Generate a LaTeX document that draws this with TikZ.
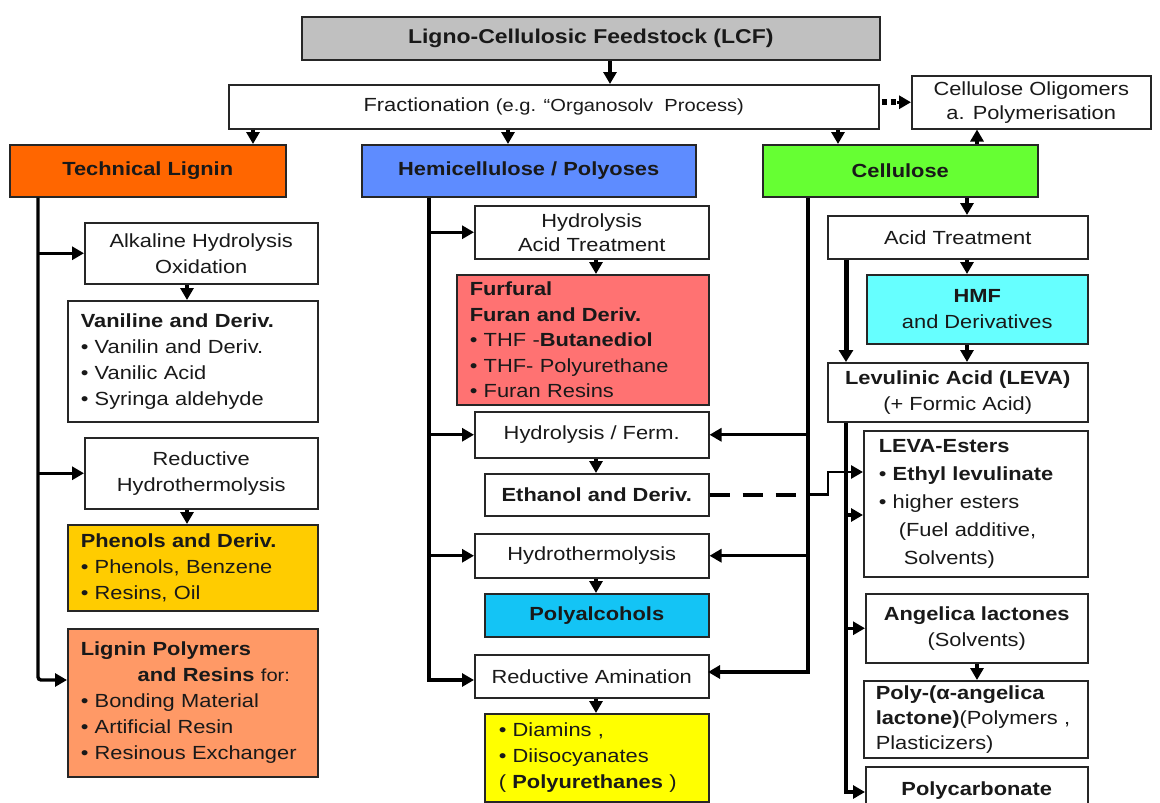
\documentclass[tikz,border=0pt]{standalone}
\usepackage{fontspec}
\setmainfont{Liberation Sans}[FakeStretch=1.15]
\usetikzlibrary{arrows.meta}
\definecolor{lcfgray}{HTML}{C0C0C0}
\definecolor{lignorange}{HTML}{FF6600}
\definecolor{hemiblue}{HTML}{5E8CFF}
\definecolor{cellgreen}{HTML}{66FF33}
\definecolor{phengold}{HTML}{FFCC00}
\definecolor{lpsalmon}{HTML}{FF9966}
\definecolor{furfred}{HTML}{FF7272}
\definecolor{polyblue}{HTML}{14C4F5}
\definecolor{hmfcyan}{HTML}{66FFFF}
\definecolor{diamyellow}{HTML}{FFFF00}
\newcommand\fsn{\fontsize{19}{26}\selectfont}
\newcommand\fst{\fontsize{20}{26}\selectfont}
\begin{document}
\begin{tikzpicture}[x=1pt,y=-1pt,
  bx/.style={draw=black!85, line width=1.5pt, inner sep=0pt, anchor=north west,
             align=center, font=\fsn, text=black!90},
  lbx/.style={bx, align=left, inner xsep=13pt},
  arr/.style={line width=3.4pt, -{Triangle[length=12pt,width=13pt]}},
  thickarr/.style={line width=5pt, -{Triangle[length=12pt,width=14pt]}},
  thinarr/.style={line width=2.8pt, -{Triangle[length=12pt,width=13pt]}},
]
\fill[white] (0,0) rectangle (1160,803);
\useasboundingbox (0,0) rectangle (1160,803);

% column x positions
\coordinate (xL) at (38,0);
\coordinate (xH) at (429,0);
\coordinate (xC) at (808,0);
\coordinate (xV) at (846,0);
\coordinate (x610) at (610,0);
\coordinate (x253) at (253,0);
\coordinate (x508) at (508,0);
\coordinate (x838) at (838,0);
\coordinate (x977) at (977,0);
\coordinate (x967) at (967,0);
\coordinate (x187) at (187,0);
\coordinate (x596) at (596,0);

% top
\node[bx, fill=lcfgray, minimum width=578pt, minimum height=43pt, font=\fst\bfseries] (lcf) at (301,16) {Ligno-Cellulosic Feedstock (LCF)};
\node[bx, minimum width=650pt, minimum height=44pt] (frac) at (228,84) {Fractionation {\fontsize{17.5}{20}\selectfont (e.g. “Organosolv\ \ Process)}};
\node[bx, minimum width=239pt, minimum height=53pt, font=\fontsize{19}{24}\selectfont] (olig) at (911,75) {Cellulose Oligomers\\a. Polymerisation};

\node[bx, fill=lignorange, minimum width=276pt, minimum height=52pt, font=\fsn\bfseries] (lignin) at (9,144) {Technical Lignin};
\node[bx, fill=hemiblue, minimum width=334pt, minimum height=52pt, font=\fsn\bfseries] (hemi) at (361,144) {Hemicellulose / Polyoses};
\node[bx, fill=cellgreen, minimum width=275pt, minimum height=52pt, font=\fsn\bfseries] (cell) at (762,144) {Cellulose};

% lignin column
\node[bx, minimum width=233pt, minimum height=61pt] (alk) at (84,222) {Alkaline Hydrolysis\\Oxidation};
\node[lbx, text width=224pt, minimum height=121pt] (van) at (67,300) {\textbf{Vaniline and Deriv.}\\• Vanilin and Deriv.\\• Vanilic Acid\\• Syringa aldehyde};
\node[bx, minimum width=233pt, minimum height=71pt] (redh) at (84,437) {Reductive\\Hydrothermolysis};
\node[lbx, fill=phengold, text width=224pt, minimum height=86pt] (phen) at (67,524) {\textbf{Phenols and Deriv.}\\• Phenols, Benzene\\• Resins, Oil};
\node[lbx, fill=lpsalmon, text width=224pt, minimum height=148pt] (lpoly) at (67,628) {\textbf{Lignin Polymers}\\\hspace*{57pt}\textbf{and Resins} {\fontsize{17.5}{20}\selectfont for:}\\• Bonding Material\\• Artificial Resin\\• Resinous Exchanger};

% hemicellulose column
\node[bx, minimum width=234pt, minimum height=53pt, font=\fontsize{19}{24}\selectfont] (hyd) at (474,205) {Hydrolysis\\Acid Treatment};
\node[lbx, fill=furfred, text width=226pt, minimum height=130pt, font=\fontsize{19}{25.5}\selectfont] (furf) at (456,274) {\textbf{Furfural}\\\textbf{Furan and Deriv.}\\• THF -\textbf{Butanediol}\\• THF- Polyurethane\\• Furan Resins};
\node[bx, minimum width=234pt, minimum height=46pt] (ferm) at (474,411) {Hydrolysis / Ferm.};
\node[bx, minimum width=224pt, minimum height=42pt, font=\fsn\bfseries] (eth) at (484,473) {Ethanol and Deriv.};
\node[bx, minimum width=234pt, minimum height=44pt] (hth) at (474,533) {Hydrothermolysis};
\node[bx, fill=polyblue, minimum width=224pt, minimum height=43pt, font=\fsn\bfseries] (polyal) at (484,593) {Polyalcohols};
\node[bx, minimum width=234pt, minimum height=43pt] (redam) at (474,654) {Reductive Amination};
\node[lbx, fill=diamyellow, inner xsep=14pt, text width=196pt, minimum height=88pt] (diam) at (484,713) {• Diamins ,\\• Diisocyanates\\( \textbf{Polyurethanes} )};

% cellulose column
\node[bx, minimum width=260pt, minimum height=43pt] (acid) at (827,215) {Acid Treatment};
\node[bx, fill=hmfcyan, minimum width=221pt, minimum height=69pt] (hmf) at (866,274) {\textbf{HMF}\\and Derivatives};
\node[bx, minimum width=260pt, minimum height=59pt] (leva) at (827,362) {\textbf{Levulinic Acid (LEVA)}\\(+ Formic Acid)};
\node[lbx, inner xsep=15pt, text width=194pt, minimum height=146pt, font=\fontsize{19}{28}\selectfont] (esters) at (863,430) {\textbf{LEVA-Esters}\\• \textbf{Ethyl levulinate}\\• higher esters\\\hspace*{20pt}(Fuel additive,\\\hspace*{25pt}Solvents)};
\node[bx, minimum width=222pt, minimum height=69pt] (angel) at (865,593) {\textbf{Angelica lactones}\\(Solvents)};
\node[lbx, inner xsep=12pt, text width=200pt, minimum height=77pt, font=\fontsize{19}{25}\selectfont] (polyang) at (863,680) {\textbf{Poly-(α-angelica}\\\textbf{lactone)}(Polymers ,\\Plasticizers)};
\node[bx, minimum width=222pt, minimum height=48pt, font=\fsn\bfseries] (pcarb) at (865,766) {Polycarbonate};

% entry coordinates on box edges
\coordinate (lpin) at (67,680);
\coordinate (rain) at (474,680);
\coordinate (raie) at (708,672);
\coordinate (esin) at (863,515);
\coordinate (esup) at (863,472);
\coordinate (pcin) at (865,792);

% top connectors
\draw[arr] (lcf.south -| x610) -- (frac.north -| x610);
\draw[arr] (frac.south -| x253) -- (lignin.north -| x253);
\draw[arr] (frac.south -| x508) -- (hemi.north -| x508);
\draw[arr] (frac.south -| x838) -- (cell.north -| x838);
\draw[line width=6pt, dash pattern=on 5pt off 4pt] ([xshift=2pt]olig.west -| frac.east) -- ([xshift=-15pt]olig.west);
\draw[arr] ([xshift=-14pt]olig.west) -- (olig.west);
\draw[arr] (cell.north -| x977) -- (olig.south -| x977);

% lignin column
\draw[arr, rounded corners=3pt] (lignin.south -| xL) -- (xL |- lpin) -- (lpin);
\draw[arr] (xL |- alk.west) -- (alk.west);
\draw[arr] (xL |- redh.west) -- (redh.west);
\draw[arr] (alk.south -| x187) -- (van.north -| x187);
\draw[arr] (redh.south -| x187) -- (phen.north -| x187);

% hemicellulose column
\draw[arr] (hemi.south -| xH) -- (xH |- rain) -- (rain);
\draw[arr] (xH |- hyd.west) -- (hyd.west);
\draw[arr] (xH |- ferm.west) -- (ferm.west);
\draw[arr] (xH |- hth.west) -- (hth.west);
\draw[arr] (hyd.south -| x596) -- (furf.north -| x596);
\draw[arr] (ferm.south -| x596) -- (eth.north -| x596);
\draw[arr] (hth.south -| x596) -- (polyal.north -| x596);
\draw[arr] (redam.south -| x596) -- (diam.north -| x596);

% cellulose trunk
\draw[arr] (cell.south -| xC) -- (xC |- raie) -- (raie);
\draw[arr] (xC |- ferm.east) -- (ferm.east);
\draw[arr] (xC |- hth.east) -- (hth.east);

% cellulose chain
\draw[arr] (cell.south -| x967) -- (acid.north -| x967);
\draw[arr] (acid.south -| x967) -- (hmf.north -| x967);
\draw[arr] (hmf.south -| x967) -- (leva.north -| x967);
\draw[thickarr] (acid.south -| xV) -- (leva.north -| xV);
\draw[arr] (leva.south -| xV) -- (xV |- pcin) -- (pcin);
\draw[arr] (xV |- esin) -- (esin);
\draw[arr] (xV |- angel.west) -- (angel.west);
\draw[arr] (angel.south -| x977) -- (polyang.north -| x977);

% ethanol link
\draw[line width=4pt, dash pattern=on 20pt off 13pt] (eth.east) -- ([xshift=-10pt]xC |- eth.east);
\draw[thinarr] (xC |- eth.east) -- ++(20,0) |- (esup);
\end{tikzpicture}
\end{document}
